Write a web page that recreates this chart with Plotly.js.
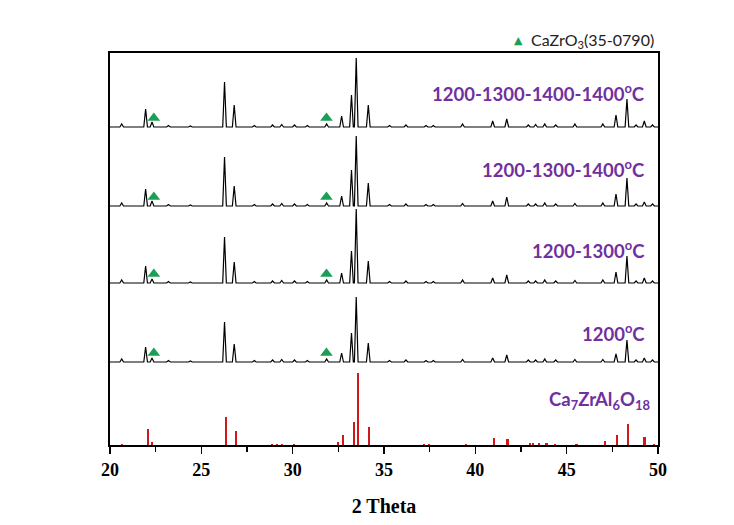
<!DOCTYPE html>
<html>
<head>
<meta charset="utf-8">
<script src="https://cdn.plot.ly/plotly-3.0.1.min.js"></script>
<style>html,body{margin:0;padding:0;background:#fff;}#chart{width:734px;height:525px;}</style>
</head>
<body>
<div id="chart"></div>
<script>
// ---- data ----
const sampleLabels = ['1200<sup>o</sup>C', '1200-1300<sup>o</sup>C', '1200-1300-1400<sup>o</sup>C', '1200-1300-1400-1400<sup>o</sup>C'];
const sampleOffsets = [83, 162, 239, 318];

const peakPos = [20.64, 21.95, 22.3, 23.2, 24.4, 26.27, 26.8, 27.9, 28.9, 29.4, 30.1, 30.8, 31.86, 32.68, 33.22, 33.48, 34.14, 35.3, 36.2, 37.3, 37.7, 39.3, 40.95, 41.72, 42.9, 43.3, 43.8, 44.4, 45.45, 46.98, 47.7, 48.3, 48.8, 49.25, 49.7];
const int1200 =          [3, 15, 4, 1.5, 1, 40, 18, 1.5, 2, 2.5, 2, 1.5, 3, 9, 29, 65, 19, 1.5, 2, 1.5, 1.5, 2.5, 4, 7, 2, 2, 3, 2, 2.5, 2.5, 8, 22, 2, 4, 2];
const int1200_1300 =     [3, 17, 4, 1.5, 1, 46, 21, 1.5, 2, 2.5, 2, 1.5, 3, 10, 32, 74, 22, 1.5, 2, 1.5, 1.5, 3, 5, 8, 2, 2, 3, 2, 2.5, 3, 11, 27, 2, 5, 2];
const int1200_1300_1400 = [3, 17, 5, 1.5, 1, 49, 20, 1.5, 2, 2.5, 2, 1.5, 3, 10, 36, 70, 23, 1.5, 2, 1.5, 1.5, 2.5, 5, 9, 2, 2, 3, 2, 2.5, 3, 12, 28, 2, 4, 2];
const int1200_1300_1400_1400 = [3, 18, 5, 1.5, 1, 45, 22, 1.5, 2, 2.5, 2, 1.5, 3, 11, 32, 69, 22, 1.5, 2, 1.5, 1.5, 3, 6, 8, 2, 2.5, 3, 2, 3, 3, 12, 28, 2, 6, 2];

const caZrO3Pos = [22.4, 31.85];

const refPos = [20.64, 22.06, 22.3, 26.33, 26.88, 28.85, 29.12, 29.4, 30.07, 32.5, 32.74, 33.36, 33.59, 34.18, 37.2, 37.45, 39.5, 41.02, 41.76, 42.99, 43.17, 43.5, 43.9, 44.36, 45.54, 47.12, 47.74, 48.35, 49.26, 49.8];
const refInt = [1.5, 16, 2.7, 27.7, 14, 1.5, 1.5, 1.5, 1.5, 2.7, 10.3, 23.3, 72, 18, 1.5, 1.5, 1.5, 7, 6.5, 2.5, 2.5, 2, 2, 1.5, 1.5, 4, 10.5, 21, 8, 1.5];

const xTickStep = 5;
// ---- end data ----

const allInts = [int1200, int1200_1300, int1200_1300_1400, int1200_1300_1400_1400];
const HW = 0.1;
function profile(pos, h, base) {
  const x = [20], y = [base];
  pos.forEach((p, i) => { x.push(p - HW, p, p + HW); y.push(base, base + h[i], base); });
  x.push(50); y.push(base);
  return {x, y};
}

const traces = [];
traces.push({type: 'bar', x: refPos, y: refInt, width: 0.12, marker: {color: '#d01818', line: {width: 0}}, showlegend: false, hoverinfo: 'skip'});
allInts.forEach((ints, k) => {
  const pr = profile(peakPos, ints, sampleOffsets[k]);
  traces.push({type: 'scatter', mode: 'lines', x: pr.x, y: pr.y, line: {color: '#000', width: 1.2}, showlegend: false, hoverinfo: 'skip'});
  traces.push({type: 'scatter', mode: 'markers', x: caZrO3Pos, y: caZrO3Pos.map(() => sampleOffsets[k] + 9),
    marker: {symbol: 'triangle-up', size: 11, color: '#1a9f55'}, showlegend: false, hoverinfo: 'skip'});
});

const labelY = [113, 196, 277, 353];
const annFont = {family: 'Lato, "Open Sans", sans-serif', size: 18.5, weight: 'bold', color: '#7030a0'};
const annotations = sampleLabels.map((t, k) => ({xref: 'paper', x: 0.98, xanchor: 'right', yref: 'y', y: labelY[k], yanchor: 'middle', text: t, showarrow: false, font: annFont}));
annotations.push({xref: 'paper', x: 0.989, xanchor: 'right', yref: 'y', y: 45, yanchor: 'middle', text: 'Ca<sub>7</sub>ZrAl<sub>6</sub>O<sub>18</sub>', showarrow: false, font: annFont});
annotations.push({xref: 'paper', x: 0.9964, xanchor: 'right', yref: 'paper', y: 1.031, yanchor: 'middle', text: 'CaZrO<sub>3</sub>(35-0790)', showarrow: false, font: {family: 'Lato, sans-serif', size: 16, color: '#222'}});
annotations.push({xref: 'paper', x: 0.745, xanchor: 'center', yref: 'paper', y: 1.033, yanchor: 'middle', text: '▲', showarrow: false, font: {family: 'DejaVu Sans', size: 11, color: '#1a9f55'}});

const layout = {
  width: 734, height: 525,
  margin: {l: 110, r: 76, t: 53, b: 80},
  paper_bgcolor: '#fff', plot_bgcolor: '#fff',
  showlegend: false,
  bargap: 0,
  xaxis: {
    range: [20, 50], tick0: 20, dtick: xTickStep,
    ticks: 'outside', ticklen: 7, tickwidth: 1.5, tickcolor: '#000',
    minor: {dtick: xTickStep / 2, ticks: 'outside', ticklen: 5, tickwidth: 1.5, tickcolor: '#000', showgrid: false},
    showline: true, linewidth: 2, linecolor: '#000', mirror: true,
    showgrid: false, zeroline: false,
    tickfont: {family: '"Liberation Serif", serif', size: 18, weight: 'bold', color: '#000'},
    title: {text: '2 Theta', font: {family: '"Liberation Serif", serif', size: 20, weight: 'bold', color: '#000'}, standoff: 20}
  },
  yaxis: {
    range: [0, 392], showline: true, linewidth: 2, linecolor: '#000', mirror: true,
    showticklabels: false, ticks: '', showgrid: false, zeroline: false
  },
  annotations: annotations
};

Plotly.newPlot('chart', traces, layout, {staticPlot: true, displayModeBar: false});
</script>
</body>
</html>
